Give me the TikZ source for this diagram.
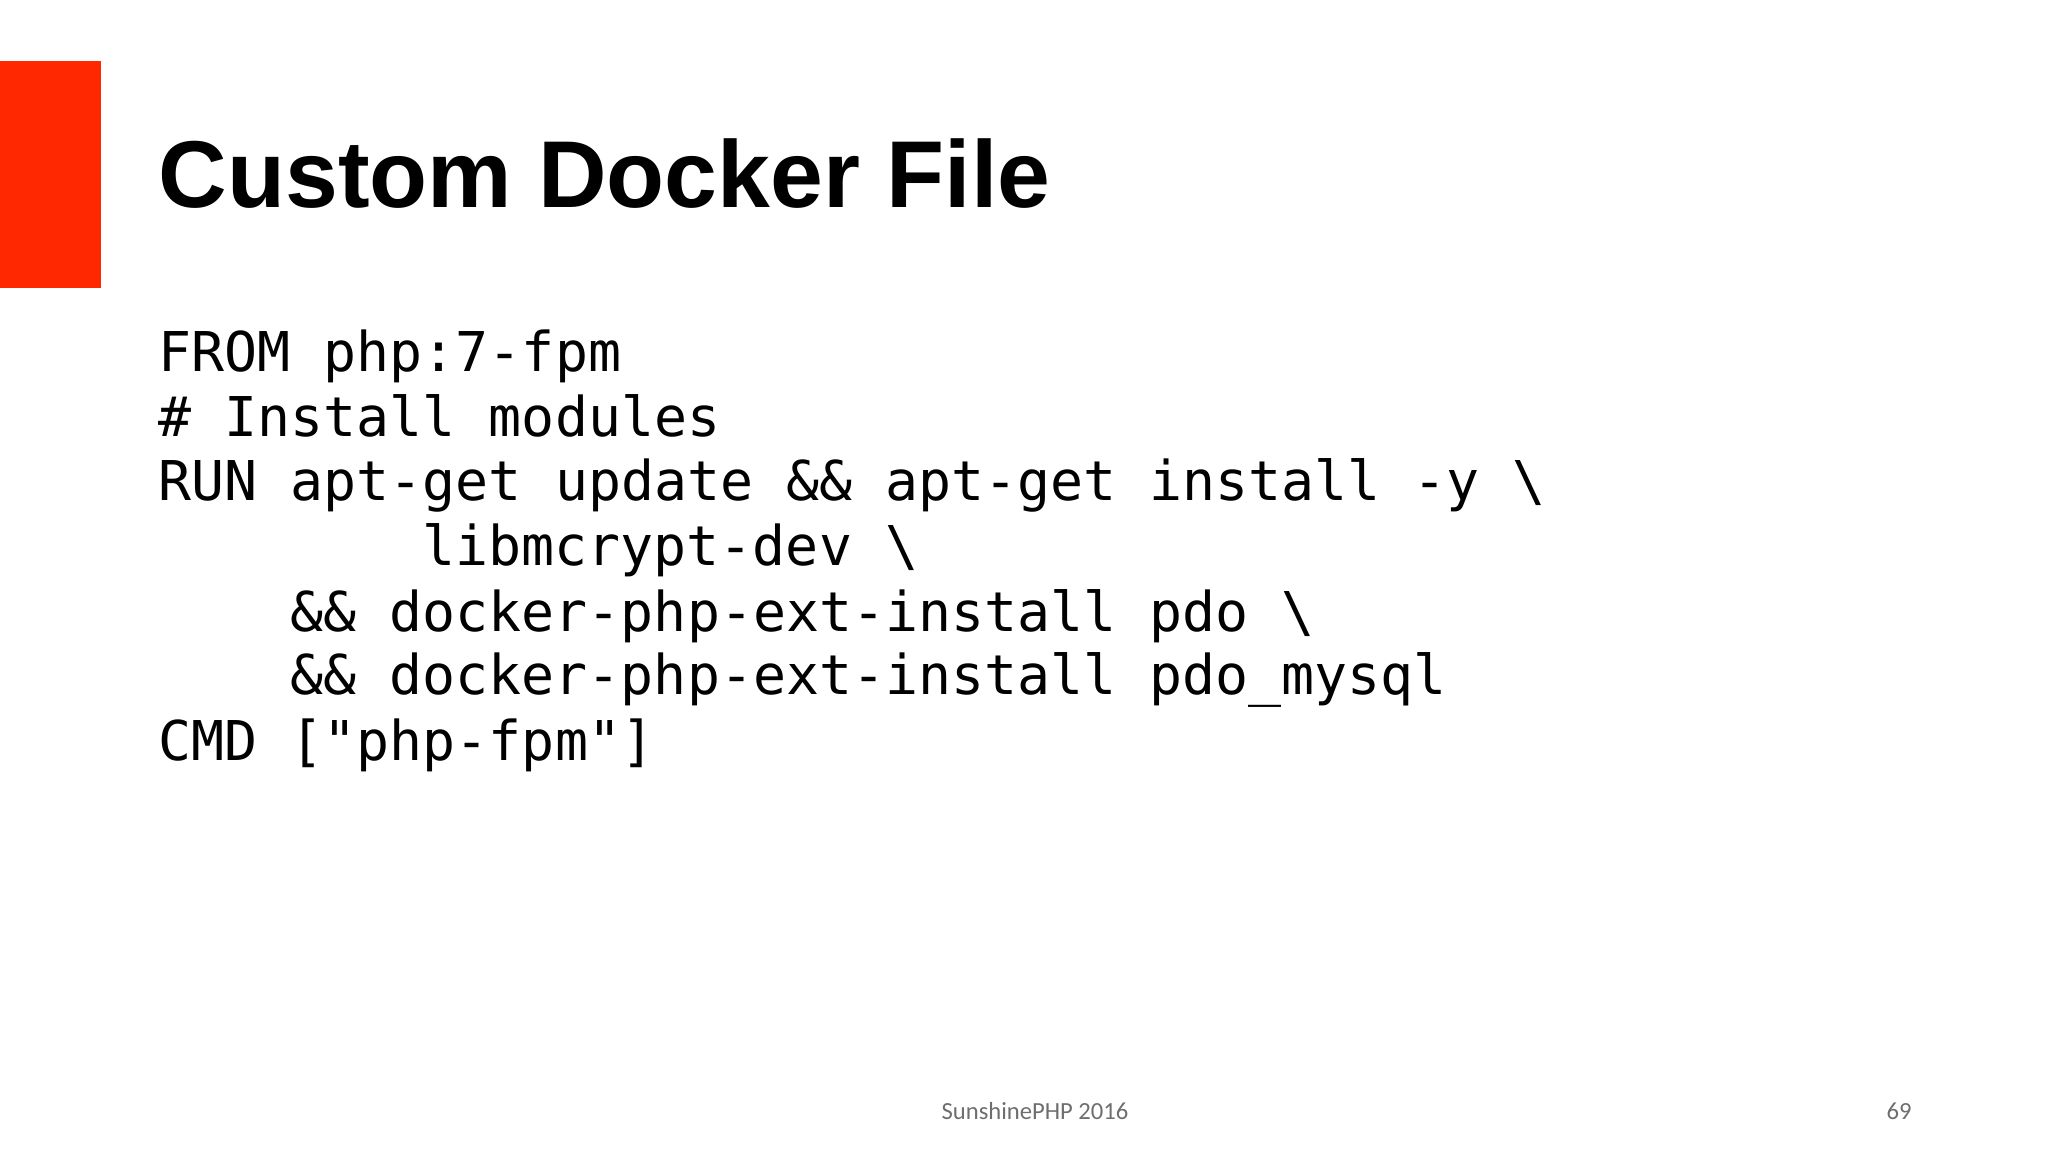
\documentclass[tikz,border=0pt]{standalone}
\usepackage{fontspec}
\newfontfamily\titlefont{Liberation Sans}
\newfontfamily\codefont{DejaVu Sans Mono}
\newfontfamily\footfont{Carlito}
\definecolor{slidered}{RGB}{255,40,0}
\definecolor{footgray}{RGB}{110,110,110}
\begin{document}
\begin{tikzpicture}[x=0.01cm,y=-0.01cm,
  codeline/.style={anchor=base west,inner sep=0,font=\codefont\fontsize{15.6pt}{18pt}\selectfont},
  foot/.style={anchor=base,inner sep=0,text=footgray,font=\footfont\fontsize{7pt}{8pt}\selectfont}]
\useasboundingbox (0,0) rectangle (2048,1152);
\fill[slidered] (0,61) rectangle (101,288);
\node[anchor=base west,inner sep=0,font=\titlefont\bfseries\fontsize{27pt}{30pt}\selectfont] (title) at (158,208) {Custom Docker File};
\node[codeline] (l1) at (158,372) {FROM php:7-fpm};
\node[codeline] (l2) at (158,437) {\# Install modules};
\node[codeline] (l3) at (158,501) {RUN apt-get update \&\& apt-get install -y \textbackslash};
\node[codeline] (l4) at (422,566) {libmcrypt-dev \textbackslash};
\node[codeline] (l5) at (290,631) {\&\& docker-php-ext-install pdo \textbackslash};
\node[codeline] (l6) at (290,695) {\&\& docker-php-ext-install pdo\_mysql};
\node[codeline] (l7) at (158,760) {CMD ["php-fpm"]};
\node[foot] (f1) at (1035,1119) {SunshinePHP 2016};
\node[foot] (f2) at (1899,1119) {69};
\end{tikzpicture}
\end{document}
